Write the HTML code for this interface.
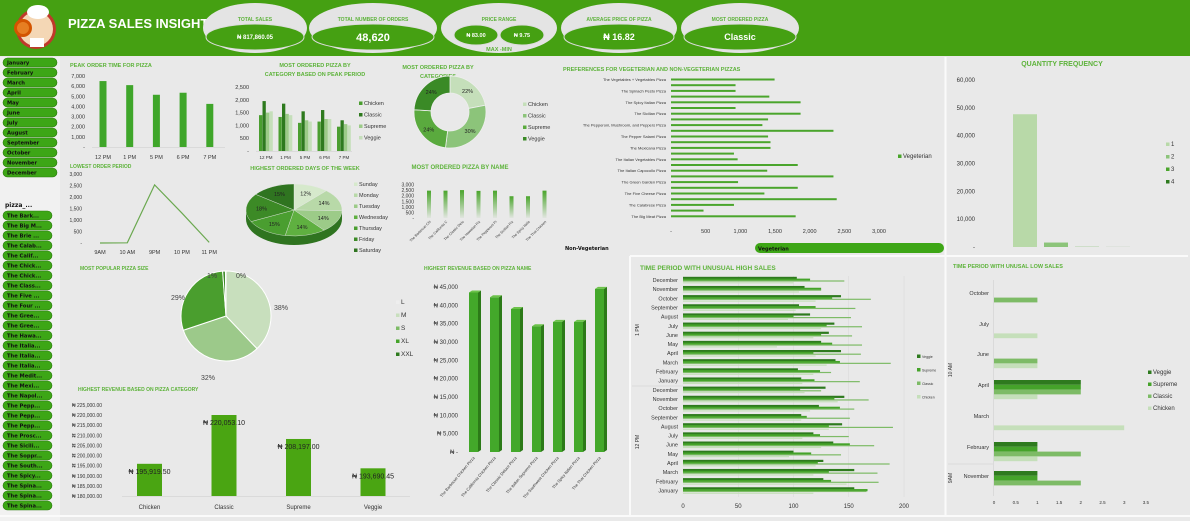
<!DOCTYPE html>
<html><head><meta charset="utf-8"><title>Pizza Sales Insight</title>
<style>
html,body{margin:0;padding:0;background:#e9e9e9;}
svg{display:block;font-family:"Liberation Sans Narrow","Liberation Sans",sans-serif;}
</style></head>
<body>
<svg id="dash" xmlns="http://www.w3.org/2000/svg" width="1190" height="521" viewBox="0 0 1190 521">
<defs>
<linearGradient id="fadeG" x1="0" y1="0" x2="0" y2="1"><stop offset="0" stop-color="#4aa52c"/><stop offset="1" stop-color="#4aa52c" stop-opacity="0.05"/></linearGradient>
</defs>
<rect x="0" y="0" width="1190" height="521" fill="#e9e9e9"/>
<rect x="0" y="0" width="1190" height="56" fill="#45a012"/>
<rect x="0" y="57" width="60" height="464" fill="#f1f1f1"/>
<line x1="945.5" y1="57" x2="945.5" y2="516" stroke="#fafafa" stroke-width="2"/>
<line x1="630" y1="256" x2="1188" y2="256" stroke="#fafafa" stroke-width="2"/>
<line x1="630" y1="256" x2="630" y2="516" stroke="#fafafa" stroke-width="2"/>
<line x1="0" y1="516" x2="1190" y2="516" stroke="#fafafa" stroke-width="2"/>
<g>
<circle cx="36" cy="29" r="20" fill="#c0392b"/><circle cx="36" cy="29" r="17" fill="#f4d7b5"/>
<ellipse cx="38" cy="12" rx="11" ry="7" fill="#fff"/><circle cx="23" cy="28" r="9" fill="#d35400"/><circle cx="23" cy="28" r="6" fill="#e67e22"/>
<rect x="30" y="38" width="14" height="9" fill="#fff"/>
</g>
<text x="68" y="28" font-size="13" font-weight="bold" fill="#fff">PIZZA SALES INSIGHT</text>
</svg>
<script>
const NS='http://www.w3.org/2000/svg';
const svg=document.getElementById('dash');
function mk(tag,attrs,parent){const e=document.createElementNS(NS,tag);for(const k in attrs)e.setAttribute(k,attrs[k]);(parent||svg).appendChild(e);return e;}
function tx(str,x,y,size,fill,anchor,weight,parent){const e=mk('text',{x:x,y:y,'font-size':size,fill:fill,'text-anchor':anchor||'start','font-weight':weight||'normal'},parent);e.textContent=str;return e;}
const TG='#5db33a';
const catColors=['#2e7a1e','#45a32a','#7dbb66','#c5dfba'];
function fmt(v){return v===0?'-':v.toLocaleString('en-US');}

// ===== KPI header =====
const kpiLabels=['TOTAL SALES','TOTAL NUMBER OF ORDERS','PRICE RANGE','AVERAGE PRICE OF PIZZA','MOST ORDERED PIZZA'];
const kpiValues=['₦ 817,860.05','48,620','','₦ 16.82','Classic'];
const kpiCx=[255,373,499,619,740];
const kpiW=[104,128,116,116,118];
const kpiSize=[6,11,6,9,9];
const priceMax='₦ 83.00', priceMin='₦ 9.75';
for(let i=0;i<kpiLabels.length;i++){
  const g=mk('g',{});
  
  
  mk('ellipse',{cx:kpiCx[i],cy:28,rx:kpiW[i]/2,ry:25,fill:'#e4e4e4'},g);
  const l=tx(kpiLabels[i],kpiCx[i],21,5,TG,'middle','bold',g);
  
  
  if(i!==2){
    mk('ellipse',{cx:kpiCx[i],cy:37,rx:kpiW[i]/2-3,ry:13,fill:'#45a012',stroke:'#dcdcdc'},g);
    const v=tx(kpiValues[i],kpiCx[i],37+kpiSize[i]*0.35,kpiSize[i],'#fff','middle','bold',g);
    
    
  }
}
[[476,priceMax],[522,priceMin]].forEach(p=>{
  mk('ellipse',{cx:p[0],cy:35,rx:22,ry:10,fill:'#45a012',stroke:'#dcdcdc'});
  const t=tx(p[1],p[0],37,5.5,'#fff','middle','bold');
  
  
});
const mm=tx('MAX -MIN',499,51,5.5,TG,'middle','bold');



// ===== Slicers =====
const months=['January','February','March','April','May','June','July','August','September','October','November','December'];
months.forEach((m,i)=>{
  const b=mk('rect',{x:3,y:58+i*10,width:54,height:9,rx:4.5,fill:'#3da616',stroke:'#2a7a0c','stroke-width':0.6});
  
  
  const t=tx(m,7,64.6+i*10,5.2,'#111','start','bold');
  t.setAttribute('font-family','DejaVu Sans');
  
  
});
const ph=tx('pizza_...',5,207,6,'#111','start','bold');
ph.setAttribute('font-family','DejaVu Sans');


const pizzas=['The Bark...','The Big M...','The Brie ...','The Calab...','The Calif...','The Chick...','The Chick...','The Class...','The Five ...','The Four ...','The Gree...','The Gree...','The Hawa...','The Italia...','The Italia...','The Italia...','The Medit...','The Mexi...','The Napol...','The Pepp...','The Pepp...','The Pepp...','The Prosc...','The Sicili...','The Soppr...','The South...','The Spicy...','The Spina...','The Spina...','The Spina...'];
pizzas.forEach((p,i)=>{
  const b=mk('rect',{x:3,y:211+i*10,width:49,height:9,rx:4.5,fill:'#3da616',stroke:'#2a7a0c','stroke-width':0.6});
  
  
  const t=tx(p,7,217.6+i*10,5.2,'#111','start','bold');
  t.setAttribute('font-family','DejaVu Sans');
  
  
});

function title(str,x,y,anchor,size){const t=tx(str,x,y,size||5.5,TG,anchor||'start','bold');return t;}
function legend(items,colors,x,y0,dy,size){items.forEach((s,i)=>{
  const r=mk('rect',{x:x,y:y0+i*dy-3.5,width:3.5,height:3.5,fill:colors[i]});
  
  
  const t=tx(s,x+5,y0+i*dy,size||5.5,'#333');
  
  
});}

// ===== Peak order time =====
const peakCats=['12 PM','1 PM','5 PM','6 PM','7 PM'];
const peakVals=[6500,6100,5150,5350,4250];
const peakTicks=[0,1000,2000,3000,4000,5000,6000,7000];
title('PEAK ORDER TIME FOR PIZZA',70,67);
{const y=v=>147-v/7000*71, x=i=>103+i*26.7;
peakTicks.forEach(t=>{const l=tx(fmt(t),85,y(t)+2,5.5,'#333','end');});
peakVals.forEach((v,i)=>{const b=mk('rect',{x:x(i)-3.5,y:y(v),width:7,height:y(0)-y(v),fill:'#3fa62a'});
 const l=tx(peakCats[i],x(i),159,5.5,'#333','middle');});
mk('line',{x1:92,y1:147.5,x2:225,y2:147.5,stroke:'#ccc','stroke-width':0.5});}

// ===== Category by peak period =====
const cats=['Chicken','Classic','Supreme','Veggie'];
const ppCats=['12 PM','1 PM','5 PM','6 PM','7 PM'];
const ppChicken=[1400,1330,1100,1150,950];
const ppClassic=[1950,1850,1550,1600,1200];
const ppSupreme=[1500,1450,1200,1250,1050];
const ppVeggie=[1550,1400,1150,1250,1000];
const ppTicks=[0,500,1000,1500,2000,2500];
title('MOST ORDERED PIZZA BY',315,67,'middle');
title('CATEGORY BASED ON PEAK PERIOD',315,76,'middle');
{const y=v=>151-v/2500*64, x=i=>266+i*19.5;
const ppCol=['#4a9e30','#2e7a1e','#9ccb88','#c5dfba'];
ppTicks.forEach(t=>{const l=tx(fmt(t),249,y(t)+2,5.5,'#333','end');});
[ppChicken,ppClassic,ppSupreme,ppVeggie].forEach((s,k)=>s.forEach((v,i)=>{
 const b=mk('rect',{x:x(i)-7+k*3.5,y:y(v),width:3.3,height:y(0)-y(v),fill:ppCol[k]});}));
ppCats.forEach((c,i)=>{const l=tx(c,x(i),159,4.5,'#333','middle');});
mk('line',{x1:256,y1:151.5,x2:352,y2:151.5,stroke:'#ccc','stroke-width':0.5});
legend(cats,ppCol,359,105,11.5,5.5);}

function arcPath(cx,cy,r,r0,a0,a1){
  const p=(rr,a)=>[cx+rr*Math.sin(a),cy-rr*Math.cos(a)];
  const big=(a1-a0)>Math.PI?1:0;const A=p(r,a0),B=p(r,a1);
  if(r0>0){const C=p(r0,a1),D=p(r0,a0);
   return `M${A} A${r},${r} 0 ${big} 1 ${B} L${C} A${r0},${r0} 0 ${big} 0 ${D}Z`;}
  return `M${cx},${cy} L${A} A${r},${r} 0 ${big} 1 ${B}Z`;}

// ===== Donut =====
const donutVals=[22,30,24,24];
title('MOST ORDERED PIZZA BY',438,69,'middle');
title('CATEGORIES',438,78,'middle');
{const col=['#c5dfba','#8cc47a','#5aaa3e','#3a8a26'];const tot=donutVals.reduce((a,b)=>a+b,0);let a=0;
donutVals.forEach((v,i)=>{const a1=a+v/tot*2*Math.PI;const p=mk('path',{d:arcPath(450,112,36,19,a,a1),fill:col[i],stroke:'#eee','stroke-width':0.8});
 
 const m=(a+a1)/2;const l=tx(v+'%',450+27.5*Math.sin(m),112-27.5*Math.cos(m)+2,5.5,'#222','middle');a=a1;});
legend(cats,col,523,106,11.5,5.5);}

// ===== Veg preferences =====
const vegNames=['The Vegetables + Vegetables Pizza','The Spinach Pesto Pizza','The Spicy Italian Pizza','The Sicilian Pizza','The Pepperoni, Mushroom, and Peppers Pizza','The Pepper Salami Pizza','The Mexicana Pizza','The Italian Vegetables Pizza','The Italian Capocollo Pizza','The Green Garden Pizza','The Five Cheese Pizza','The Calabrese Pizza','The Big Meat Pizza'];
const vegVals=[1494,931,931,1418,1869,931,1869,1400,1318,2343,1400,1435,1435,908,961,1828,1388,2343,967,1828,1347,2390,908,469,1798];
const vegTicks=[0,500,1000,1500,2000,2500,3000];
title('PREFERENCES FOR VEGETERIAN AND NON-VEGETERIAN PIZZAS',563,71);
{const x=v=>671+v/3000*208, y=i=>79.5+i*5.7;
vegVals.forEach((v,i)=>{const b=mk('rect',{x:x(0),y:y(i)-1,width:x(v)-x(0),height:2,fill:'#4aa52c'});});
vegNames.forEach((n,i)=>{const l=tx(n,666,y(i*2)+1.5,4,'#333','end');});
vegTicks.forEach(t=>{const l=tx(fmt(t),x(t),233,5.5,'#333','middle');});
legend(['Vegeterian'],['#4aa52c'],898,158,10,6);}
{const t=tx('Non-Vegeterian',565,250,5,'#111','start','bold');t.setAttribute('font-family','DejaVu Sans');
const b=mk('rect',{x:755,y:243,width:189,height:10,rx:5,fill:'#3da616'});
const t2=tx('Vegeterian',758,250.5,5,'#111','start','bold');t2.setAttribute('font-family','DejaVu Sans');}

// ===== Quantity frequency =====
const qtyCats=['1','2','3','4'];
const qtyVals=[47700,1600,60,20];
const qtyTicks=[0,10000,20000,30000,40000,50000,60000];
title('QUANTITY FREQUENCY',1062,66,'middle',7);
{const y=v=>247-v/60000*167, col=['#b8d9a8','#8cc47a','#4aa52c','#2e7a1e'];
qtyTicks.forEach(t=>{const l=tx(fmt(t),975,y(t)+2,6,'#333','end');});
qtyVals.forEach((v,i)=>{const b=mk('rect',{x:1013+i*31,y:y(v),width:24,height:y(0)-y(v),fill:col[i]});});
legend(qtyCats,col,1166,146,12.5,6);}

// ===== Lowest order period =====
const lowCats=['9AM','10 AM','9PM','10 PM','11 PM'];
const lowVals=[1,8,2528,1300,28];
const lowTicks=[0,500,1000,1500,2000,2500,3000];
title('LOWEST ORDER PERIOD',70,168,'start',5);
{const y=v=>243-v/3000*69, x=i=>100+i*27.3;
lowTicks.forEach(t=>{const l=tx(fmt(t),82,y(t)+2,5,'#333','end');});
const ln=mk('polyline',{points:lowVals.map((v,i)=>x(i)+','+y(v)).join(' '),fill:'none',stroke:'#6aa84f','stroke-width':1.2});
lowCats.forEach((c,i)=>{const l=tx(c,x(i),254,5.5,'#333','middle');});}

// ===== Days pie 3D =====
const days=['Sunday','Monday','Tuesday','Wednesday','Thursday','Friday','Saturday'];
const dayPct=[12,14,14,14,15,18,15];
title('HIGHEST ORDERED DAYS OF THE WEEK',305,170,'middle');
{const col=['#d6e9cc','#b8d9a8','#9ccb88','#5fb040','#4a9e30','#3c8a26','#2f7420'];
const cx=294,cy=210,rx=48,ry=26,d=9;
const side=mk('path',{d:`M${cx-rx},${cy} L${cx-rx},${cy+d} A${rx},${ry} 0 0 0 ${cx+rx},${cy+d} L${cx+rx},${cy}Z`,fill:'#2f7420'});
const tot=dayPct.reduce((a,b)=>a+b,0);let a=0;
dayPct.forEach((v,i)=>{const a1=a+v/tot*2*Math.PI;
 const P=t=>[cx+rx*Math.sin(t),cy-ry*Math.cos(t)];const A=P(a),B=P(a1);const big=(a1-a)>Math.PI?1:0;
 const p=mk('path',{d:`M${cx},${cy} L${A} A${rx},${ry} 0 ${big} 1 ${B}Z`,fill:col[i],stroke:'#e9e9e9','stroke-width':0.4});
 const m=(a+a1)/2;const l=tx(v+'%',cx+rx*0.68*Math.sin(m),cy-ry*0.68*Math.cos(m)+2,5.5,'#222','middle');a=a1;});
legend(days,col,354,186,11,5.5);}

// ===== Most ordered pizza by name =====
const nameCats=['The Barbecue Chicken Pizza','The California Chicken Pizza','The Classic Deluxe Pizza','The Hawaiian Pizza','The Pepperoni Pizza','The Sicilian Pizza','The Spicy Italian Pizza','The Thai Chicken Pizza'];
const nameVals=[2450,2450,2500,2430,2450,1950,1950,2450];
const nameTicks=[0,500,1000,1500,2000,2500,3000];
title('MOST ORDERED PIZZA BY NAME',460,169,'middle',6);
{const y=v=>218-v/3000*33.5, x=i=>429+i*16.5;
nameTicks.forEach(t=>{const l=tx(fmt(t),414,y(t)+2,5,'#333','end');});
nameVals.forEach((v,i)=>{const b=mk('rect',{x:x(i)-2,y:y(v),width:4,height:y(0)-y(v),fill:'url(#fadeG)'});
 const l=tx(nameCats[i].slice(0,16),x(i)+2,222,3.5,'#333','end');l.setAttribute('transform',`rotate(-45 ${x(i)+2} 222)`);});}

// ===== Size pie =====
const sizes=['L','M','S','XL','XXL'];
const sizePct=[38,32,29,1,0.2];
const sizeLbl=['38%','32%','29%','1%','0%'];
title('MOST POPULAR PIZZA SIZE',80,270,'start',5);
{const col=['#c8dfbd','#9cc98a','#4a9e2e','#3d8a28','#2e7a1e'];const cx=226,cy=316,r=45;
const tot=sizePct.reduce((a,b)=>a+b,0);let a=0;
const lpos=[[281,310],[208,380],[178,300],[212,278],[241,278]];
sizePct.forEach((v,i)=>{const a1=a+v/tot*2*Math.PI;const p=mk('path',{d:arcPath(cx,cy,r,0,a,a1),fill:col[i],stroke:'#fff','stroke-width':1});a=a1;
 const l=tx(sizeLbl[i],lpos[i][0],lpos[i][1],7,'#444','middle');});
legend(sizes,['#eee','#c8dfbd','#7dbb66','#45a32a','#2e7a1e'],396,304,13,6.5);}

// ===== Revenue by category =====
const revCats=['Chicken','Classic','Supreme','Veggie'];
const revVals=[195919.50,220053.10,208197.00,193690.45];
const revTicks=[180000,185000,190000,195000,200000,205000,210000,215000,220000,225000];
title('HIGHEST REVENUE BASED ON PIZZA CATEGORY',78,391,'start',5);
{const y=v=>496-(v-180000)/45000*91, x=i=>137+i*74.5;
revTicks.forEach(t=>{const l=tx('₦ '+t.toLocaleString('en-US')+'.00',72,y(t)+2,5,'#333');});
revVals.forEach((v,i)=>{const b=mk('rect',{x:x(i),y:y(v),width:25,height:y(180000)-y(v),fill:'#4aa512'});
 const l=tx('₦ '+v.toLocaleString('en-US',{minimumFractionDigits:2}),x(i)+12.5,y(v)+10,7,'#222','middle');
 const c=tx(revCats[i],x(i)+12.5,509,6,'#333','middle');});
mk('line',{x1:122,y1:496.5,x2:410,y2:496.5,stroke:'#ccc','stroke-width':0.5});}

// ===== Revenue by pizza name 3D =====
const rnCats=['The Barbecue Chicken Pizza','The California Chicken Pizza','The Classic Deluxe Pizza','The Italian Supreme Pizza','The Southwest Chicken Pizza','The Spicy Italian Pizza','The Thai Chicken Pizza'];
const rnVals=[43500,42200,39000,34300,35500,35500,44500];
const rnTicks=[0,5000,10000,15000,20000,25000,30000,35000,40000,45000];
title('HIGHEST REVENUE BASED ON PIZZA NAME',424,270,'start',5);
{const y=v=>452-v/45000*165, x=i=>469+i*21;
rnTicks.forEach(t=>{const l=tx('₦ '+(t===0?'-':t.toLocaleString('en-US')),458,y(t)+2,6,'#333','end');});
rnVals.forEach((v,i)=>{const g=mk('g',{});
 mk('rect',{x:x(i),y:y(v),width:9,height:y(0)-y(v),fill:'#43a82a'},g);
 mk('path',{d:`M${x(i)+9},${y(v)} l3,-2 L${x(i)+12},${y(0)-2} L${x(i)+9},${y(0)}Z`,fill:'#2c7a18'},g);
 mk('path',{d:`M${x(i)},${y(v)} l3,-2 h9 l-3,2Z`,fill:'#6cc24a'},g);
 const l=tx(rnCats[i],x(i)+6,458,4,'#333','end');l.setAttribute('transform',`rotate(-50 ${x(i)+6} 458)`);});}

// ===== Unusual high sales =====
const hiMonths=['December','November','October','September','August','July','June','May','April','March','February','January'];
const hiVeggie=[103,110,143,105,115,137,132,125,143,138,104,107,129,146,123,107,144,118,136,100,127,155,127,155];
const hiSupreme=[115,125,135,120,100,130,125,135,118,142,124,119,106,137,142,112,132,124,151,116,122,132,134,167];
const hiClassic=[146,125,170,156,152,162,153,162,161,188,134,160,125,168,155,151,190,150,173,143,187,176,177,166];
const hiChicken=[100,105,120,102,95,125,118,85,120,130,118,108,110,140,115,107,132,108,125,96,120,118,148,118];
title('TIME PERIOD WITH UNUSUAL HIGH SALES',640,270,'start',6.5);
{const x=v=>683+v/200*221, y=i=>280+i*9.15;
const sers=[hiVeggie,hiSupreme,hiClassic,hiChicken];
[683+55.25,683+110.5,683+165.75,904].forEach(gx=>mk('line',{x1:gx,y1:276,x2:gx,y2:497,stroke:'#d8d8d8','stroke-width':0.5}));
sers.forEach((s,k)=>s.forEach((v,i)=>{const b=mk('rect',{x:x(0),y:y(i)-3.2+k*1.8,width:x(v)-x(0),height:k<2?2.2:1.2,fill:catColors[k]});}));
for(let i=0;i<24;i++){const l=tx(hiMonths[i%12],678,y(i)+2,5.5,'#333','end');}
[0,50,100,150,200].forEach(t=>{const l=tx(String(t),x(t),508,6,'#333','middle');});
mk('line',{x1:632,y1:386,x2:683,y2:386,stroke:'#ccc','stroke-width':0.5});
const g1=tx('1 PM',639,330,5,'#333','middle');g1.setAttribute('transform','rotate(-90 639 330)');
const g2=tx('12 PM',639,442,5,'#333','middle');g2.setAttribute('transform','rotate(-90 639 442)');
legend(['Veggie','Supreme','Classic','Chicken'],catColors,917,358,13.5,3.5);}

// ===== Unusual low sales =====
const loMonths=['October','July','June','April','March','February','November'];
const loVeggie=[0,0,0,2,0,1,1];
const loSupreme=[0,0,0,2,0,1,1];
const loClassic=[1,0,1,2,0,2,2];
const loChicken=[0,1,1,1,3,1,0];
title('TIME PERIOD WITH UNUSAL LOW SALES',953,268,'start',5.5);
{const x=v=>994+v*43.4, yc=[296,327,357,388,419,450,479];
[loVeggie,loSupreme,loClassic,loChicken].forEach((s,k)=>s.forEach((v,i)=>{if(!v)return;const b=mk('rect',{x:x(0),y:yc[i]-8+k*4.8,width:x(v)-x(0),height:4.8,fill:catColors[k]});}));
loMonths.forEach((m,i)=>{const l=tx(m,989,yc[i]-1,5.5,'#333','end');});
[0,0.5,1,1.5,2,2.5,3,3.5].forEach(t=>{const l=tx(String(t),x(t),504,4.5,'#333','middle');});
mk('line',{x1:993.5,y1:280,x2:993.5,y2:496,stroke:'#ccc','stroke-width':0.5});
mk('line',{x1:948,y1:464,x2:993,y2:464,stroke:'#ccc','stroke-width':0.5});
const g1=tx('10 AM',952,370,5,'#333','middle');g1.setAttribute('transform','rotate(-90 952 370)');
const g2=tx('9AM',952,478,5,'#333','middle');g2.setAttribute('transform','rotate(-90 952 478)');
legend(['Veggie','Supreme','Classic','Chicken'],catColors,1148,374,12,6);}
</script>
</body></html>
